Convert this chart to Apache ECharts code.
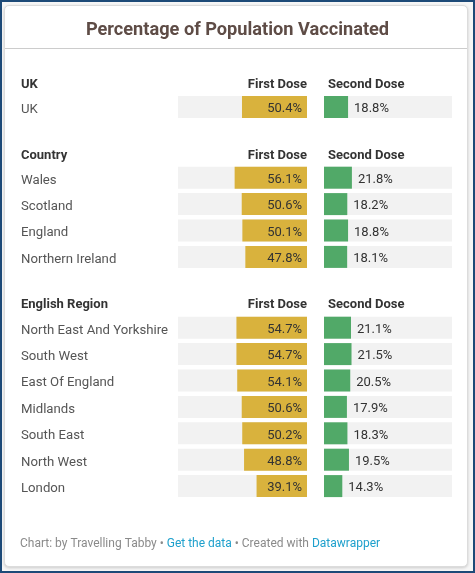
<!DOCTYPE html>
<html>
<head>
<meta charset="utf-8">
<script src="https://cdn.jsdelivr.net/npm/echarts@6/dist/echarts.min.js"></script>
<style>
html,body{margin:0;padding:0;width:475px;height:573px;overflow:hidden;background:#f6f6f6;}
#frame{position:absolute;left:0;top:0;width:471px;height:569px;border:2px solid #1d4a78;}
#card{position:absolute;left:4px;top:5px;width:462px;height:560px;background:#fff;border:1px solid #dcdcdc;border-radius:5px;box-shadow:0 1px 3px rgba(0,0,0,0.18);}
#chart{position:absolute;left:0;top:0;width:475px;height:573px;}
</style>
</head>
<body>
<div id="frame"></div>
<div id="card"></div>
<div id="chart"></div>
<script>
// ---- data ----
const ukNames = ['UK'];
const ukFirst = [50.4];
const ukSecond = [18.8];

const countryNames = ['Wales', 'Scotland', 'England', 'Northern Ireland'];
const countryFirst = [56.1, 50.6, 50.1, 47.8];
const countrySecond = [21.8, 18.2, 18.8, 18.1];

const regionNames = ['North East And Yorkshire', 'South West', 'East Of England', 'Midlands', 'South East', 'North West', 'London'];
const regionFirst = [54.7, 54.7, 54.1, 50.6, 50.2, 48.8, 39.1];
const regionSecond = [21.1, 21.5, 20.5, 17.9, 18.3, 19.5, 14.3];

const sectionTitles = ['UK', 'Country', 'English Region'];
const colHeaders = ['First Dose', 'Second Dose'];
const titleText = 'Percentage of Population Vaccinated';

// ---- layout ----
const FONT = 'Roboto, "Noto Sans", sans-serif';
const PITCH = 26.4, BARH = 22;
const sections = [
  {names: ukNames, first: ukFirst, second: ukSecond, rowTop: 96, headY: 83},
  {names: countryNames, first: countryFirst, second: countrySecond, rowTop: 166.7, headY: 154},
  {names: regionNames, first: regionFirst, second: regionSecond, rowTop: 316.7, headY: 303}
];
const GOLD = '#d9b23d', GREEN = '#51a968', TRACK = '#f2f2f2';

const grid = [], xAxis = [], yAxis = [], series = [], graphic = [];
sections.forEach((s, i) => {
  const top = s.rowTop - (PITCH - BARH) / 2;
  const h = s.names.length * PITCH;
  grid.push({left: 178, top: top, width: 129, height: h});
  grid.push({left: 324, top: top, width: 128, height: h});
  const g1 = i * 2, g2 = i * 2 + 1;
  xAxis.push({gridIndex: g1, type: 'value', min: 0, max: 100, inverse: true, show: false});
  xAxis.push({gridIndex: g2, type: 'value', min: 0, max: 100, show: false});
  yAxis.push({gridIndex: g1, type: 'category', data: s.names, inverse: true,
    axisLine: {show: false}, axisTick: {show: false}, splitLine: {show: false},
    axisLabel: {show: true, align: 'left', margin: 157, color: '#555', fontSize: 13.2, fontFamily: FONT,
      verticalAlign: 'top', lineHeight: 5}});
  yAxis.push({gridIndex: g2, type: 'category', data: s.names, inverse: true, show: false});
  const track = s.names.map(() => 100);
  series.push({type: 'bar', xAxisIndex: g1, yAxisIndex: g1, data: track, barWidth: BARH, barGap: '-100%',
    itemStyle: {color: TRACK}, silent: true, z: 1});
  series.push({type: 'bar', xAxisIndex: g1, yAxisIndex: g1, data: s.first, barWidth: BARH, barGap: '-100%',
    itemStyle: {color: GOLD}, z: 2,
    label: {show: true, position: 'insideRight', distance: 5, offset: [0, 2], color: '#333', fontSize: 13, fontFamily: FONT,
      formatter: p => p.value.toFixed(1) + '%'}});
  series.push({type: 'bar', xAxisIndex: g2, yAxisIndex: g2, data: track, barWidth: BARH, barGap: '-100%',
    itemStyle: {color: TRACK}, silent: true, z: 1});
  series.push({type: 'bar', xAxisIndex: g2, yAxisIndex: g2, data: s.second, barWidth: BARH, barGap: '-100%',
    itemStyle: {color: GREEN}, z: 2,
    label: {show: true, position: 'right', distance: 6, offset: [0, 2], color: '#333', fontSize: 13, fontFamily: FONT,
      formatter: p => p.value.toFixed(1) + '%'}});
  graphic.push({type: 'text', left: 21, top: s.headY - 4.5, style: {text: sectionTitles[i], font: 'bold 13px ' + FONT, fill: '#333'}});
  graphic.push({type: 'text', right: 475 - 307, top: s.headY - 4.5, style: {text: colHeaders[0], font: 'bold 13px ' + FONT, fill: '#333'}});
  graphic.push({type: 'text', left: 328, top: s.headY - 4.5, style: {text: colHeaders[1], font: 'bold 13px ' + FONT, fill: '#333'}});
});

graphic.push({type: 'line', shape: {x1: 5, y1: 48.5, x2: 467, y2: 48.5}, style: {stroke: '#cccccc', lineWidth: 1}});

const chart = echarts.init(document.getElementById('chart'), null, {renderer: 'canvas'});
chart.setOption({
  animation: false,
  title: [
    {text: titleText, left: 'center', top: 16, textStyle: {fontFamily: FONT, fontSize: 18.2, fontWeight: 'bold', color: '#5e4c46'}},
    {text: '{g|Chart: by Travelling Tabby • }{b|Get the data}{g| • Created with }{b|Datawrapper}', left: 15, top: 533,
      textStyle: {fontWeight: 'normal', rich: {
        g: {fontFamily: FONT, fontSize: 12, fontWeight: 'normal', color: '#8a8a8a'},
        b: {fontFamily: FONT, fontSize: 12, fontWeight: 'normal', color: '#1ea0cc'}
      }}}
  ],
  grid, xAxis, yAxis, series, graphic
});
</script>
</body>
</html>
